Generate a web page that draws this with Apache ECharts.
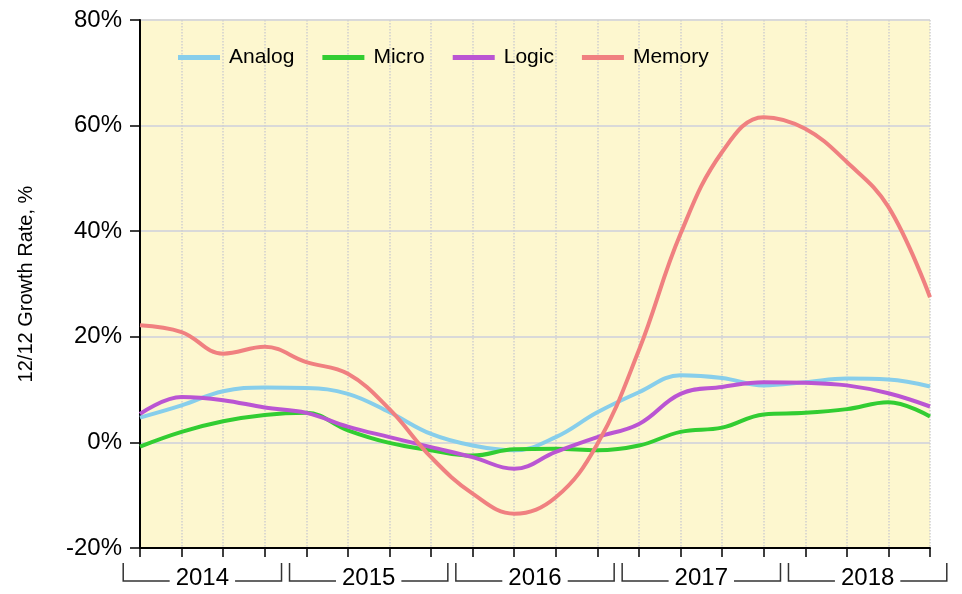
<!DOCTYPE html>
<html>
<head>
<meta charset="utf-8">
<script src="https://cdn.jsdelivr.net/npm/echarts@6/dist/echarts.min.js"></script>
<style>
html,body{margin:0;padding:0;background:#fff;}
#chart{width:962px;height:594px;}
</style>
</head>
<body>
<div id="chart"></div>
<script>
// Quarterly categories 2014Q1 .. 2018Q4
const quarters = ['2014Q1','2014Q2','2014Q3','2014Q4','2015Q1','2015Q2','2015Q3','2015Q4',
  '2016Q1','2016Q2','2016Q3','2016Q4','2017Q1','2017Q2','2017Q3','2017Q4',
  '2018Q1','2018Q2','2018Q3','2018Q4'];
const years = ['2014','2015','2016','2017','2018'];
const yTicks = [-20, 0, 20, 40, 60, 80];

const analog = [4.7, 7.0, 9.7, 10.4, 10.3, 9.2, 5.7, 1.6, -0.6, -1.5, 1.0, 5.7, 9.5, 12.7, 12.2, 10.8, 11.4, 12.1, 11.9, 10.6];
const micro  = [-0.8, 2.0, 4.0, 5.2, 5.6, 2.3, -0.1, -1.5, -2.5, -1.3, -1.2, -1.5, -0.6, 2.0, 2.8, 5.3, 5.6, 6.3, 7.6, 4.9];
const logic  = [5.4, 8.6, 8.0, 6.6, 5.6, 3.0, 1.0, -0.9, -2.8, -5.0, -1.8, 1.0, 3.5, 9.2, 10.5, 11.4, 11.3, 10.8, 9.3, 6.8];
const memory = [22.2, 20.9, 16.8, 18.1, 15.2, 13.0, 6.3, -2.8, -9.7, -13.5, -10.4, -0.3, 17.5, 39.5, 55.0, 61.6, 59.4, 53.1, 44.6, 27.5];

const seriesNames = ['Analog', 'Micro', 'Logic', 'Memory'];
const seriesData = [analog, micro, logic, memory];
const colors = ['#87CEEB', '#32CD32', '#BA55D3', '#F08080'];

const chart = echarts.init(document.getElementById('chart'));

const lineSeries = seriesNames.map((n, i) => ({
  name: n,
  type: 'line',
  data: seriesData[i],
  smooth: 0.4,
  showSymbol: false,
  symbol: 'none',
  lineStyle: { width: 4, color: colors[i] },
  itemStyle: { color: colors[i] },
  xAxisIndex: 0,
  yAxisIndex: 0,
  z: 3
}));

const bracketSeries = {
  type: 'custom',
  xAxisIndex: 1,
  yAxisIndex: 1,
  silent: true,
  clip: false,
  data: years.map((y, i) => [i * 4, 0]),
  renderItem: function (params, api) {
    const i = params.dataIndex;
    const step = api.size([1, 0])[0];
    const start = api.coord([i * 4, 0]);
    const end = api.coord([i * 4 + 3, 0]);
    const top = api.coord([i * 4, 1])[1];
    const bottom = start[1];
    const inset = 4;
    const x1 = start[0] - step / 2 + inset;
    const x2 = end[0] + step / 2 - inset;
    return {
      type: 'group',
      children: [
        {
          type: 'polyline',
          shape: { points: [[x1, top], [x1, bottom], [x2, bottom], [x2, top]] },
          style: { stroke: '#333', lineWidth: 1.5, fill: null }
        },
        {
          type: 'text',
          style: {
            text: years[i],
            x: (x1 + x2) / 2,
            y: bottom - 3,
            align: 'center',
            verticalAlign: 'middle',
            font: '24px "Liberation Sans", Arial, sans-serif',
            fill: '#000',
            backgroundColor: '#fff',
            padding: [0, 6, 0, 6]
          }
        }
      ]
    };
  }
};

chart.setOption({
  backgroundColor: '#fff',
  animation: false,
  color: colors,
  legend: {
    left: 178,
    top: 47,
    padding: 0,
    icon: 'rect',
    itemWidth: 42,
    itemHeight: 5,
    itemGap: 28,
    textStyle: {
      fontFamily: '"Liberation Sans", Arial, sans-serif',
      fontSize: 21,
      color: '#000',
      padding: [0, 0, 0, 4]
    },
    data: seriesNames
  },
  grid: [
    { left: 140, right: 32, top: 20, bottom: 46, show: true, backgroundColor: '#FDF7CF', borderWidth: 0 },
    { left: 140, right: 32, top: 563, bottom: 13 }
  ],
  xAxis: [
    {
      type: 'category',
      gridIndex: 0,
      data: quarters,
      boundaryGap: false,
      axisLine: { show: true, onZero: false, lineStyle: { color: '#000', width: 2 } },
      axisTick: { show: true, interval: 0, length: 9, lineStyle: { color: '#000', width: 1.5 } },
      axisLabel: { show: false },
      splitLine: { show: true, interval: 0, lineStyle: { color: '#cfcfcf', type: 'dotted', width: 1.5 } }
    },
    {
      type: 'category',
      gridIndex: 1,
      data: quarters,
      boundaryGap: false,
      show: false
    }
  ],
  yAxis: [
    {
      type: 'value',
      gridIndex: 0,
      min: -20,
      max: 80,
      interval: 20,
      name: '12/12 Growth Rate, %',
      nameLocation: 'middle',
      nameGap: 104,
      nameTextStyle: { fontFamily: '"Liberation Sans", Arial, sans-serif', fontSize: 20, color: '#000' },
      axisLine: { show: true, onZero: false, lineStyle: { color: '#000', width: 2 } },
      axisTick: { show: true, length: 10, lineStyle: { color: '#000', width: 1.5 } },
      axisLabel: {
        margin: 18,
        fontFamily: '"Liberation Sans", Arial, sans-serif',
        fontSize: 24,
        color: '#000',
        formatter: function (v) { return yTicks.indexOf(v) >= 0 ? v + '%' : ''; }
      },
      splitLine: { show: true, lineStyle: { color: '#d9d9d9', width: 2 } }
    },
    {
      type: 'value',
      gridIndex: 1,
      min: 0,
      max: 1,
      show: false
    }
  ],
  series: lineSeries.concat([bracketSeries])
});
</script>
</body>
</html>
